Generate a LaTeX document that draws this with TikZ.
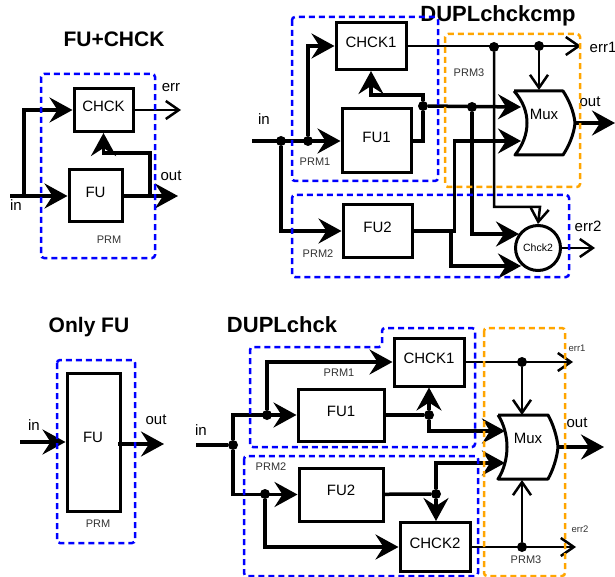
\documentclass[tikz,border=0pt]{standalone}
\usepackage{fontspec}
\setmainfont{Liberation Sans}
\usetikzlibrary{arrows.meta}
\usetikzlibrary{positioning}
\definecolor{prmamber}{RGB}{255,165,0}

\begin{document}
\begin{tikzpicture}[x=1pt,y=-1pt]
  \tikzset{block/.style = {shape=rectangle,draw,line width=3pt,inner sep=0pt,text depth=8pt,font=\fontsize{15}{17}\selectfont}}
  \tikzset{wire/.style = {line width=3.5pt,-{Stealth[length=23pt,width=25pt,inset=8pt]}}}
  \tikzset{plainwire/.style = {line width=3.5pt}}
  \tikzset{thinwire/.style = {line width=2.5pt,-{Straight Barb[length=13pt,width=18pt]}}}
  \tikzset{junction/.style = {shape=circle,fill,inner sep=0pt,minimum size=10pt}}
  \tikzset{prm/.style = {line width=2.5pt,dash pattern=on 6pt off 4pt,rounded corners=3pt}}
  \tikzset{prmblue/.style = {prm,draw=blue}}
  \tikzset{prmorange/.style = {prm,draw=prmamber}}
  \tikzset{heading/.style = {font=\fontsize{21}{24}\selectfont\bfseries}}
  \tikzset{bigheading/.style = {font=\fontsize{22}{24}\selectfont\bfseries}}
  \tikzset{lbl/.style = {inner sep=0pt,font=\fontsize{15}{17}\selectfont}}
  \tikzset{small/.style = {inner sep=0pt,text=black!80,font=\fontsize{11}{13}\selectfont}}
  \tikzset{tiny/.style = {small,font=\fontsize{9.5}{11}\selectfont}}
  \tikzset{muxshape/.style = {line width=3pt,line join=round}}

  \useasboundingbox (0,0) rectangle (615,577);

  % FU+CHCK
  \node[heading] (atitle) at (114,39) {FU+CHCK};
  \node[block,minimum width=59pt,minimum height=43pt] (achck) at (103.5,110) {CHCK};
  \node[block,minimum width=53pt,minimum height=52pt] (afu) at (95.5,196) {FU};
  \coordinate (ain) at (10,196);
  \coordinate (aerr) at (181,110);
  \coordinate (aout) at (178,196);
  \coordinate (asplit) at (24,196);
  \coordinate (atap) at (150,196);
  \draw[wire] (ain) -- (afu);
  \draw[wire] (asplit) |- (achck);
  \draw[wire] (afu) -- (aout);
  \draw[wire] (atap) -- ++(0,-43) -| (achck.south);
  \draw[thinwire] (achck) -- (aerr);
  \node[lbl] (aerrl) at (171,88) {err};
  \node[lbl] (aoutl) at (171,176) {out};
  \node[lbl] (ainl) at (16,205) {in};
  \node[small] (aprm) at (109,240) {PRM};
  \draw[prmblue] (41,74) rectangle (155,258);

  % DUPLchckcmp
  \node[bigheading] (btitle) at (498,16) {DUPLchckcmp};
  \node[block,minimum width=70pt,minimum height=47pt] (bchcka) at (371,46) {CHCK1};
  \node[block,minimum width=69pt,minimum height=64pt] (bfua) at (376.5,141) {FU1};
  \node[block,minimum width=69pt,minimum height=52pt] (bfub) at (377.5,231) {FU2};
  \node[block,shape=circle,minimum size=45pt,text depth=0pt,font=\fontsize{10.5}{12}\selectfont] (bchckb) at (538,248) {Chck2};
  \draw[muxshape] (514,91) -- (563,91) .. controls (569,100) and (574,112) .. (575,123)
    .. controls (574,134) and (569,146) .. (563,155) -- (515,155)
    .. controls (523,145) and (527,134) .. (527,123) .. controls (527,112) and (523,101) .. (514,91);
  \node[lbl] (bmux) at (544,114) {Mux};
  \coordinate (bin) at (252,141);
  \coordinate (bmuxa) at (521,107);
  \coordinate (bmuxb) at (521,141);
  \coordinate (bmuxo) at (575,123);
  \coordinate (bout) at (615,123);
  \coordinate (berra) at (581,46);
  \coordinate (berrb) at (595,248);
  \node[junction] (bj1) at (281,141) {};
  \node[junction] (bj2) at (308,141) {};
  \node[junction] (bj3) at (423,106) {};
  \node[junction] (bj4) at (472,107) {};
  \node[junction] (bj5) at (494,47) {};
  \node[junction] (bj6) at (539,46) {};
  \draw[wire] (bin) -- (bfua);
  \draw[wire] (bj2) |- (bchcka);
  \draw[wire] (bj1) |- (bfub);
  \draw[plainwire] (bfua) -| (bj3);
  \draw[wire] (bj3) -- ++(0,-11) -| (bchcka.south);
  \draw[wire] (bj3) -- (bmuxa);
  \draw[wire] (bj4) |- (519,234);
  \draw[wire] (bfub.east) -- ++(41,0) |- (bmuxb);
  \draw[wire] (451,231) |- (521,266);
  \draw[wire] (bmuxo) -- (bout);
  \draw[thinwire] (bchcka) -- (berra);
  \draw[thinwire] (bj6) -- (539,90);
  \draw[thinwire] (bj5) |- (540,207) -- (bchckb.north);
  \draw[thinwire] (bchckb) -- (berrb);
  \node[lbl] (binl) at (264,119) {in};
  \node[lbl] (boutl) at (590,102) {out};
  \node[lbl] (berral) at (603,47) {err1};
  \node[lbl] (berrbl) at (588,226) {err2};
  \node[small] (bprma) at (315,162) {PRM1};
  \node[small] (bprmb) at (318,254) {PRM2};
  \node[small] (bprmc) at (469,73) {PRM3};
  \draw[prmblue] (292,17) rectangle (438,181);
  \draw[prmblue] (292,195) rectangle (569,277);
  \draw[prmorange] (445,34) rectangle (580,187);

  % Only FU
  \node[heading] (ctitle) at (89,327) {Only FU};
  \node[block,minimum width=53pt,minimum height=138pt] (cfu) at (93.5,442) {};
  \node[lbl] (cfutext) at (93,437) {FU};
  \coordinate (cin) at (20,442);
  \coordinate (cfrom) at (118,444);
  \coordinate (cout) at (164,444);
  \draw[wire] (cin) -- (cfu);
  \draw[wire] (cfrom) -- (cout);
  \node[lbl] (cinl) at (34,425) {in};
  \node[lbl] (coutl) at (156,420) {out};
  \node[small] (cprm) at (98,524) {PRM};
  \draw[prmblue] (57,360) rectangle (135,543);

  % DUPLchck
  \node[bigheading] (dtitle) at (282,325) {DUPLchck};
  \node[block,minimum width=70pt,minimum height=48pt] (dchcka) at (429,362) {CHCK1};
  \node[block,minimum width=86pt,minimum height=52pt] (dfua) at (341,415) {FU1};
  \node[block,minimum width=84pt,minimum height=53pt] (dfub) at (341,494.5) {FU2};
  \node[block,minimum width=70pt,minimum height=49pt] (dchckb) at (435,547) {CHCK2};
  \draw[muxshape] (498,415) -- (548,415) .. controls (553,424) and (557,436) .. (558,447)
    .. controls (557,458) and (553,470) .. (548,479) -- (498,479)
    .. controls (504,470) and (507,458) .. (507,447) .. controls (507,436) and (504,424) .. (498,415);
  \node[lbl] (dmux) at (528,438) {Mux};
  \coordinate (din) at (196,445);
  \coordinate (dmuxa) at (505,431);
  \coordinate (dmuxb) at (505,463);
  \coordinate (dmuxo) at (558,447);
  \coordinate (dout) at (604,447);
  \coordinate (derra) at (573,362);
  \coordinate (derrb) at (576,547);
  \node[junction] (dj1) at (233,445) {};
  \node[junction] (dj2) at (267,415) {};
  \node[junction] (dj3) at (265,494) {};
  \node[junction] (dj4) at (429,415) {};
  \node[junction] (dj5) at (436,494) {};
  \node[junction] (dj6) at (522,362) {};
  \node[junction] (dj7) at (522,547) {};
  \draw[plainwire] (din) -- (dj1);
  \draw[wire] (dj1) |- (dfua);
  \draw[wire] (dj1) |- (dfub);
  \draw[wire] (dj2) |- (dchcka);
  \draw[wire] (dj3) |- (dchckb);
  \draw[plainwire] (dfua) -- (dj4);
  \draw[wire] (dj4) -- (dj4 |- dchcka.south);
  \draw[wire] (dj4) |- (dmuxa);
  \draw[plainwire] (dfub) -- (dj5);
  \draw[wire] (dj5) |- (dmuxb);
  \draw[wire] (dj5) -- (dj5 |- dchckb.north);
  \draw[wire] (dmuxo) -- (dout);
  \draw[thinwire] (dchcka) -- (derra);
  \draw[thinwire] (dchckb) -- (derrb);
  \draw[thinwire] (dj6) -- (522,415);
  \draw[thinwire] (dj7) -- (522,480);
  \node[lbl] (dinl) at (201,430) {in};
  \node[lbl] (doutl) at (577,423) {out};
  \node[tiny] (derral) at (577,348) {err1};
  \node[tiny] (derrbl) at (580,529) {err2};
  \node[small] (dprma) at (339,373) {PRM1};
  \node[small] (dprmb) at (271,467) {PRM2};
  \node[small] (dprmc) at (526,560) {PRM3};
  \draw[prmblue] (250,447) -- (250,347) -- (382,347) -- (382,328) -- (475,328) -- (475,447) -- cycle;
  \draw[prmblue] (244,456) rectangle (478,576);
  \draw[prmorange] (484,328) rectangle (565,576);

\end{tikzpicture}
\end{document}
